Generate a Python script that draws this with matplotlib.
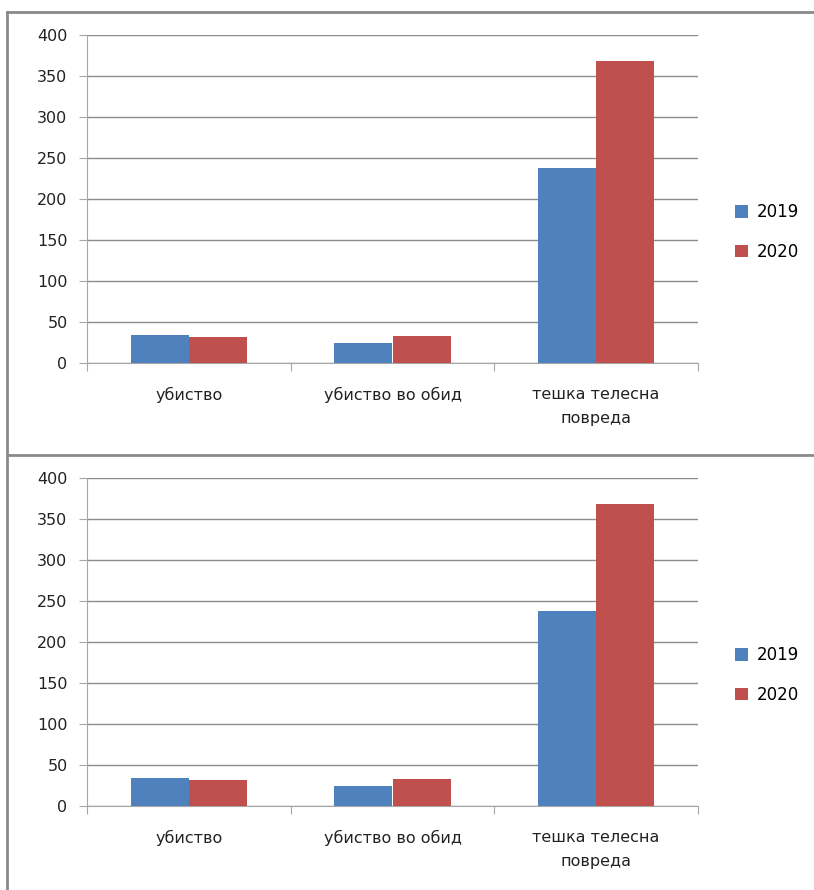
import matplotlib.pyplot as plt
import numpy as np
from matplotlib.lines import Line2D

categories = ['убиство', 'убиство во обид', 'тешка телесна\nповреда']
years = ['2019', '2020']
vals_2019 = [34, 24, 238]
vals_2020 = [32, 33, 368]
colors = ['#4F81BD', '#C0504D']
y_ticks = [0, 50, 100, 150, 200, 250, 300, 350, 400]

W, H = 814, 890
fig = plt.figure(figsize=(W / 100, H / 100), dpi=100)
plt.rcParams['font.family'] = ['DejaVu Sans']

# outer frames
frame = '#8a8a8a'
fig.add_artist(Line2D([7 / W, 1], [1 - 12 / H, 1 - 12 / H], color=frame, lw=2, transform=fig.transFigure))
fig.add_artist(Line2D([7 / W, 1], [1 - 455 / H, 1 - 455 / H], color=frame, lw=2, transform=fig.transFigure))
fig.add_artist(Line2D([7 / W, 7 / W], [0, 1 - 12 / H], color=frame, lw=2, transform=fig.transFigure))


def draw_chart(top_px, legend_y):
    left, right = 87, 698
    bottom = top_px + 328
    ax = fig.add_axes([left / W, 1 - bottom / H, (right - left) / W, 328 / H])
    x = np.arange(len(categories))
    bw = 1 / 3.5
    ax.bar(x - bw / 2, vals_2019, bw, color=colors[0], label=years[0], zorder=3, lw=0)
    ax.bar(x + bw / 2, vals_2020, bw, color=colors[1], label=years[1], zorder=3, lw=0)
    ax.set_xlim(-0.5, 2.5)
    ax.set_ylim(0, 400)
    ax.set_yticks(y_ticks)
    ax.yaxis.grid(True, color='#8c8c8c', lw=1)
    ax.set_axisbelow(True)
    for s in ['top', 'right']:
        ax.spines[s].set_visible(False)
    for s in ['left', 'bottom']:
        ax.spines[s].set_color('#a6a6a6')
    ax.set_xticks([-0.5, 0.5, 1.5, 2.5])
    ax.set_xticklabels([])
    ax.set_xticks(x, minor=True)
    ax.set_xticklabels(categories, minor=True, fontsize=11.5, color='#222222', linespacing=1.75)
    ax.tick_params(axis='x', which='minor', length=0, pad=17)
    ax.tick_params(axis='x', which='major', length=6, color='#a6a6a6')
    ax.tick_params(axis='y', length=6, color='#a6a6a6', labelsize=11.5, labelcolor='#222222', pad=8)
    ax.legend(loc='center left', bbox_to_anchor=(720 / W, 1 - legend_y / H),
              bbox_transform=fig.transFigure, frameon=False, fontsize=12,
              handlelength=0.8, handleheight=0.8, handletextpad=0.5, labelspacing=1.3)


draw_chart(35, 232)
draw_chart(478, 675)

fig.savefig('out.png', dpi=100)
